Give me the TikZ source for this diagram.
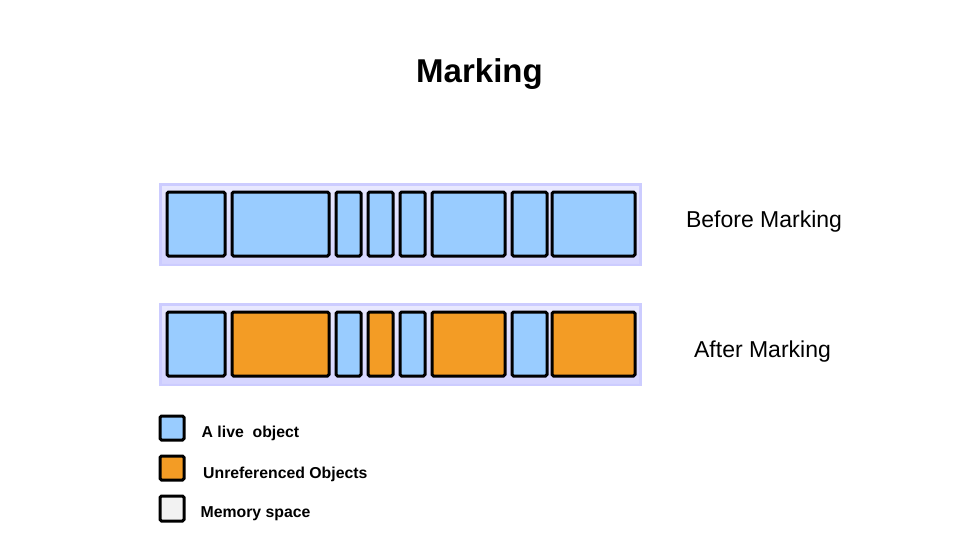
\documentclass[tikz,border=0pt]{standalone}
\usepackage{fontspec}
\setmainfont{Liberation Sans}
\usepackage{xcolor}
\usetikzlibrary{positioning}

\definecolor{liveblue}{HTML}{99CCFF}
\definecolor{deadorange}{HTML}{F39C25}
\definecolor{memgray}{HTML}{F2F2F2}
\definecolor{bandlilac}{HTML}{CCCCFF}
\definecolor{bandlight}{HTML}{E8E8FF}

\tikzset{
  obj/.style={draw=black, line width=3pt, rounded corners=1.5pt},
  live/.style={obj, fill=liveblue},
  dead/.style={obj, fill=deadorange},
  mem/.style={obj, fill=memgray},
  caption/.style={font=\fontsize{23}{27}\selectfont, anchor=base},
  legendtext/.style={font=\bfseries\fontsize{15.8}{19}\selectfont, anchor=base west, inner sep=0pt}
}

\begin{document}
\begin{tikzpicture}[x=1pt, y=-1pt]
                \useasboundingbox[fill=white] (0,0) rectangle (960,558);

                % Title
                \node[font=\bfseries\fontsize{33}{40}\selectfont, anchor=base] (title) at (479.5,82) {Marking};

                % Memory before marking
                \fill[bandlilac] (159,183) rectangle (642,266);
                \shade[top color=bandlight, bottom color=bandlilac!70!bandlight] (162,186) rectangle (639,263);
                \draw[live] (167,192) rectangle (225,256);
                \draw[live] (232,192) rectangle (329,256);
                \draw[live] (336,192) rectangle (361,256);
                \draw[live] (368,192) rectangle (393,256);
                \draw[live] (400,192) rectangle (425,256);
                \draw[live] (432,192) rectangle (505,256);
                \draw[live] (512,192) rectangle (547,256);
                \draw[live] (552,192) rectangle (635,256);
                \node[caption] (before) at (764,227) {Before Marking};

                % Memory after marking
                \fill[bandlilac] (159,303) rectangle (642,386);
                \shade[top color=bandlight, bottom color=bandlilac!70!bandlight] (162,306) rectangle (639,383);
                \draw[live] (167,312) rectangle (225,376);
                \draw[dead] (232,312) rectangle (329,376);
                \draw[live] (336,312) rectangle (361,376);
                \draw[dead] (368,312) rectangle (393,376);
                \draw[live] (400,312) rectangle (425,376);
                \draw[dead] (432,312) rectangle (505,376);
                \draw[live] (512,312) rectangle (547,376);
                \draw[dead] (552,312) rectangle (635,376);
                \node[caption] (after) at (762.5,357) {After Marking};

                % Legend
                \draw[live] (160,416) rectangle (184,440);
                \node[legendtext] (livetext) at (201.5,437) {A live\ \ object};
                \draw[dead] (160,456) rectangle (184,480);
                \node[legendtext] (deadtext) at (203,478) {Unreferenced Objects};
                \draw[mem] (160,496) rectangle (184,521);
                \node[legendtext] (memtext) at (200.5,517) {Memory space};
            \end{tikzpicture}
\end{document}
